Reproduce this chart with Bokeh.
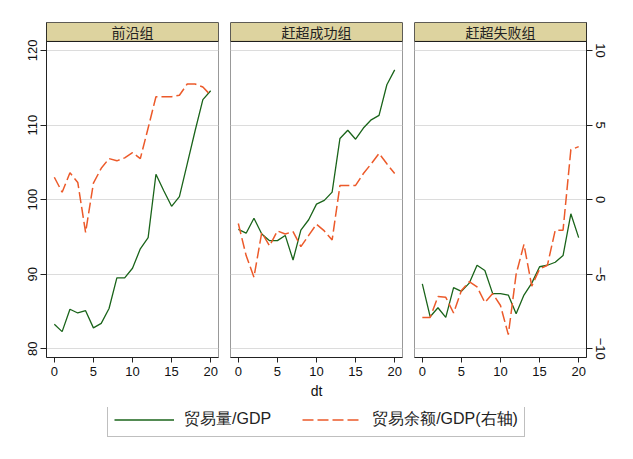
from bokeh.plotting import figure
from bokeh.models import Range1d, LinearAxis, FixedTicker, Grid, BoxAnnotation, Label, Legend, LegendItem
from bokeh.layouts import column, row
from bokeh.embed import file_html
from bokeh.resources import INLINE

# ---------------- data ----------------
dt = list(range(21))
panel_titles = ["前沿组", "赶超成功组", "赶超失败组"]
left_ticks = [80, 90, 100, 110, 120]
right_ticks = [-10, -5, 0, 5, 10]
x_ticks = [0, 5, 10, 15, 20]
series_labels = ["贸易量/GDP", "贸易余额/GDP(右轴)"]

# 贸易量/GDP (left axis)
vol_frontier = [83.3, 82.3, 85.3, 84.8, 85.1, 82.8, 83.4, 85.4, 89.5, 89.5, 90.8,
                93.4, 94.9, 103.4, 101.2, 99.1, 100.4, 104.8, 109.2, 113.4, 114.6]
vol_success = [96.0, 95.5, 97.5, 95.4, 94.5, 94.5, 95.2, 91.9, 95.9, 97.3, 99.4,
               99.9, 101.0, 108.2, 109.3, 108.1, 109.6, 110.7, 111.3, 115.4, 117.4]
vol_failure = [88.7, 84.3, 85.5, 84.2, 88.2, 87.7, 88.8, 91.2, 90.5, 87.4, 87.4,
               87.2, 84.7, 87.2, 88.8, 91.0, 91.2, 91.6, 92.5, 98.1, 94.9]

# 贸易余额/GDP (right axis)
bal_frontier = [1.5, 0.5, 1.8, 1.15, -2.2, 1.1, 2.1, 2.75, 2.6, 2.8, 3.15,
                2.75, 4.8, 6.9, 6.9, 6.9, 7.0, 7.75, 7.75, 7.55, 7.0]
bal_success = [-1.6, -3.75, -5.2, -2.2, -3.1, -2.1, -2.3, -2.15, -3.15, -2.4, -1.65,
               -2.1, -2.7, 0.95, 0.95, 0.95, 1.75, 2.4, 3.1, 2.4, 1.75]
bal_failure = [-7.9, -7.9, -6.5, -6.55, -7.6, -6.1, -5.5, -5.85, -6.9, -6.3, -7.1,
               -9.05, -5.0, -3.0, -5.8, -4.65, -4.4, -2.05, -2.05, 3.35, 3.55]

vols = [vol_frontier, vol_success, vol_failure]
bals = [bal_frontier, bal_success, bal_failure]

# ---------------- style ----------------
GREEN = "#1a641a"
ORANGE = "#ec5a2a"
STRIP = "#ddd39f"
Y0, Y1 = 78.83, 123.75
HEADER_Y = 121.21
TICK_FONT = "Liberation Sans"

widths = [224, 184, 217]
borders_left = [46, 6, 6]
borders_right = [6, 6, 39]

panels = []
for i in range(3):
    p = figure(width=widths[i], height=407, output_backend="svg", toolbar_location=None,
               x_range=Range1d(-1, 21), y_range=Range1d(Y0, Y1),
               min_border_left=borders_left[i], min_border_right=borders_right[i],
               min_border_top=22, min_border_bottom=50,
               y_axis_location="left" if i == 0 else None)
    p.extra_y_ranges = {"right": Range1d((Y0 - 100) / 2, (Y1 - 100) / 2)}
    p.background_fill_color = "white"
    p.border_fill_color = "white"
    p.outline_line_color = "#999999"
    p.grid.visible = False
    p.add_layout(Grid(dimension=1, ticker=FixedTicker(ticks=left_ticks),
                      grid_line_color="#dcdcdc", grid_line_width=1))

    xa = p.xaxis[0]
    xa.ticker = FixedTicker(ticks=x_ticks)
    xa.major_tick_out = 5
    xa.major_tick_in = 0
    xa.minor_tick_line_color = None
    xa.axis_line_color = "#222222"
    xa.major_tick_line_color = "#222222"
    xa.major_label_text_font = TICK_FONT
    xa.major_label_text_font_size = "13px"
    xa.major_label_text_color = "#111111"
    xa.major_label_standoff = 4
    if i == 1:
        xa.axis_label = "dt"
        xa.axis_label_text_font = TICK_FONT
        xa.axis_label_text_font_style = "normal"
        xa.axis_label_text_font_size = "14px"
        xa.axis_label_text_color = "#111111"
        xa.axis_label_standoff = 4

    if i == 0:
        ya = p.yaxis[0]
        ya.ticker = FixedTicker(ticks=left_ticks)
        ya.major_label_orientation = "vertical"
        ya.major_tick_out = 6
        ya.major_tick_in = 0
        ya.minor_tick_line_color = None
        ya.axis_line_color = "#222222"
        ya.major_tick_line_color = "#222222"
        ya.major_label_text_font = TICK_FONT
        ya.major_label_text_font_size = "13px"
        ya.major_label_text_color = "#111111"
        ya.major_label_standoff = 3
    if i == 2:
        ra = LinearAxis(y_range_name="right", ticker=FixedTicker(ticks=right_ticks))
        ra.major_label_orientation = "vertical"
        ra.major_tick_out = 6
        ra.major_tick_in = 0
        ra.minor_tick_line_color = None
        ra.axis_line_color = "#222222"
        ra.major_tick_line_color = "#222222"
        ra.major_label_text_font = TICK_FONT
        ra.major_label_text_font_size = "13px"
        ra.major_label_text_color = "#111111"
        ra.major_label_standoff = 3
        p.add_layout(ra, "right")

    p.line(dt, vols[i], color=GREEN, line_width=1.3)
    p.line(dt, bals[i], y_range_name="right", color=ORANGE, line_width=1.5, line_dash="11 4")

    p.add_layout(BoxAnnotation(bottom=HEADER_Y, fill_color=STRIP, fill_alpha=1.0,
                               line_color="#111111", line_width=1, line_alpha=1.0))
    p.add_layout(Label(x=10, y=(HEADER_Y + Y1) / 2, text=panel_titles[i],
                       text_align="center", text_baseline="middle",
                       text_font="Noto Sans CJK SC", text_font_size="14px",
                       text_color="#222222"))
    panels.append(p)

# ---------------- legend ----------------
lg = figure(width=625, height=44, output_backend="svg", toolbar_location=None,
            x_range=Range1d(0, 1), y_range=Range1d(0, 1),
            x_axis_location=None, y_axis_location=None, min_border=0)
lg.grid.visible = False
lg.outline_line_color = None
nan = float("nan")
r1 = lg.line([nan], [nan], color=GREEN, line_width=1.3)
r2 = lg.line([nan], [nan], color=ORANGE, line_width=1.5, line_dash="11 4")
legend = Legend(items=[LegendItem(label=series_labels[0], renderers=[r1]),
                       LegendItem(label=series_labels[1], renderers=[r2])],
                orientation="horizontal", location=(107, 14),
                glyph_width=60, glyph_height=17, label_height=17,
                label_standoff=10, spacing=31, padding=6, margin=0,
                border_line_color="#808080", border_line_width=1,
                background_fill_color="white", background_fill_alpha=1.0,
                label_text_font=TICK_FONT, label_text_font_size="16px",
                label_text_color="#222222")
lg.add_layout(legend, "center")

layout = column(row(*panels), lg)
open("out.html", "w").write(file_html(layout, INLINE))
